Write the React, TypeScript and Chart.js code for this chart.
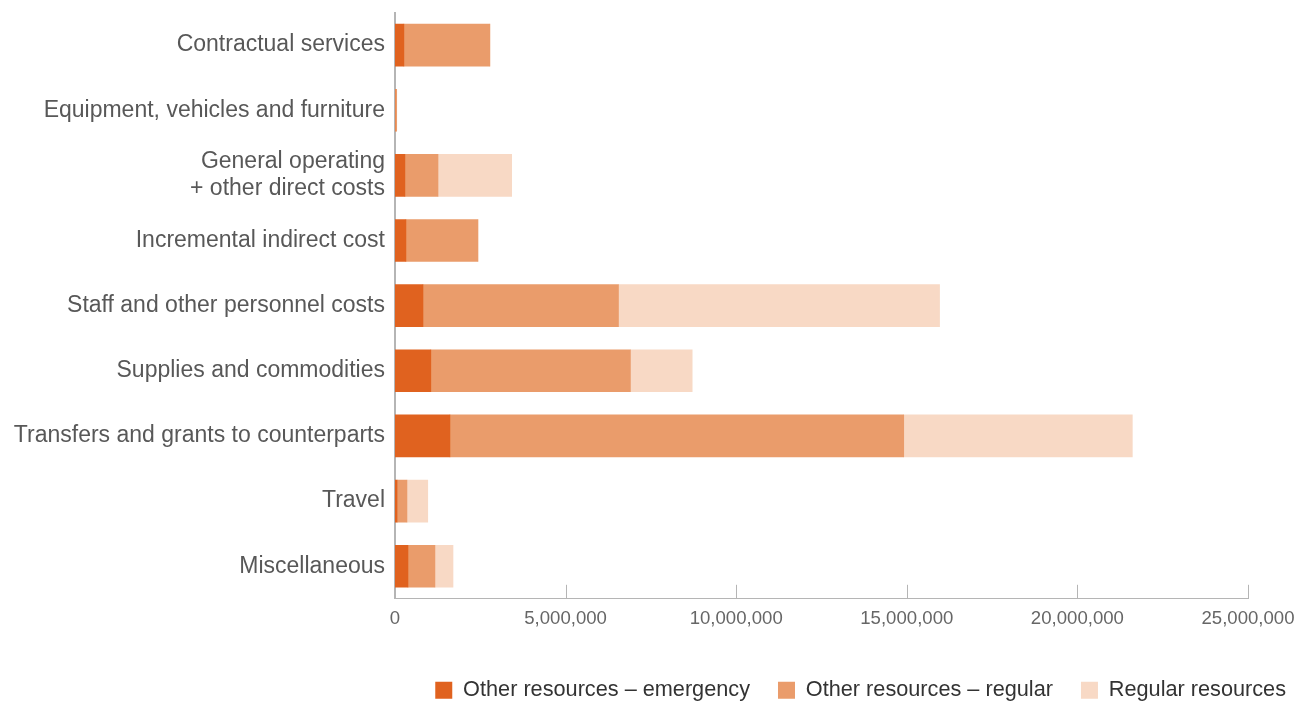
import React, { useEffect, useRef } from "react";
import { Chart, registerables } from "chart.js";

Chart.register(...registerables);

const categories: (string | string[])[] = [
  "Contractual services",
  "Equipment, vehicles and furniture",
  ["General operating", "+ other direct costs"],
  "Incremental indirect cost",
  "Staff and other personnel costs",
  "Supplies and commodities",
  "Transfers and grants to counterparts",
  "Travel",
  "Miscellaneous",
];

const otherEmergency = [260000, 0, 290000, 320000, 820000, 1050000, 1610000, 60000, 380000];
const otherRegular = [2520000, 50000, 970000, 2110000, 5730000, 5850000, 13300000, 290000, 790000];
const regularResources = [0, 0, 2160000, 0, 9410000, 1810000, 6700000, 610000, 530000];

const seriesNames = ["Other resources – emergency", "Other resources – regular", "Regular resources"];
const seriesColors = ["#E0621F", "#EA9C6B", "#F8D9C5"];
const xTicks = [0, 5000000, 10000000, 15000000, 20000000, 25000000];

const FONT = "'Liberation Sans', Arial, sans-serif";

const tickMarks = {
  id: "tickMarks",
  afterDraw(chart: any) {
    const x = chart.scales.x;
    const ctx = chart.ctx;
    ctx.save();
    ctx.strokeStyle = "#b5b5b5";
    ctx.lineWidth = 1;
    for (const v of xTicks) {
      if (v === 0) continue;
      const px = Math.round(x.getPixelForValue(v)) + 0.5;
      ctx.beginPath();
      ctx.moveTo(px, chart.chartArea.bottom);
      ctx.lineTo(px, chart.chartArea.bottom - 14);
      ctx.stroke();
    }
    ctx.restore();
  },
};

export default function App() {
  const ref = useRef<HTMLCanvasElement>(null);
  useEffect(() => {
    if (!ref.current) return;
    const data = [otherEmergency, otherRegular, regularResources];
    const chart = new Chart(ref.current, {
      type: "bar",
      data: {
        labels: categories,
        datasets: seriesNames.map((n, i) => ({
          label: n,
          data: data[i],
          backgroundColor: seriesColors[i],
          borderWidth: 0,
          barThickness: 42,
        })),
      },
      options: {
        indexAxis: "y",
        animation: false,
        responsive: true,
        maintainAspectRatio: false,
        layout: { padding: { top: 4.5, right: -19, left: 0, bottom: -7 } },
        scales: {
          x: {
            stacked: true,
            min: 0,
            max: 25000000,
            afterBuildTicks: (s: any) => {
              s.ticks = xTicks.map((v) => ({ value: v }));
            },
            afterFit: (s: any) => {
              s.height = 52.5;
              s.paddingRight = 47;
            },
            grid: { display: false, drawTicks: false },
            border: { display: true, color: "#b5b5b5", width: 1 },
            ticks: {
              color: "#666",
              padding: 9,
              font: { family: FONT, size: 18.6 },
              maxRotation: 0,
              autoSkip: false,
              callback: (v: any) => Number(v).toLocaleString("en-US"),
            },
          },
          y: {
            stacked: true,
            afterFit: (s: any) => {
              s.width = 387;
              s.paddingTop = 0;
              s.paddingBottom = 0;
            },
            grid: { display: false, drawTicks: false },
            border: { display: true, color: "#b5b5b5", width: 2 },
            ticks: {
              color: "#585858",
              padding: 10,
              font: { family: FONT, size: 23, lineHeight: 1.17 },
            },
          },
        },
        plugins: {
          legend: {
            position: "bottom",
            align: "end",
            labels: {
              color: "#333",
              boxWidth: 17,
              boxHeight: 17,
              padding: 28,
              font: { family: FONT, size: 21.7 },
            },
          },
          tooltip: { enabled: false },
        },
      },
      plugins: [tickMarks],
    });
    return () => chart.destroy();
  }, []);
  return (
    <div style={{ width: 1287, height: 696, position: "relative" }}>
      <canvas ref={ref} />
    </div>
  );
}
